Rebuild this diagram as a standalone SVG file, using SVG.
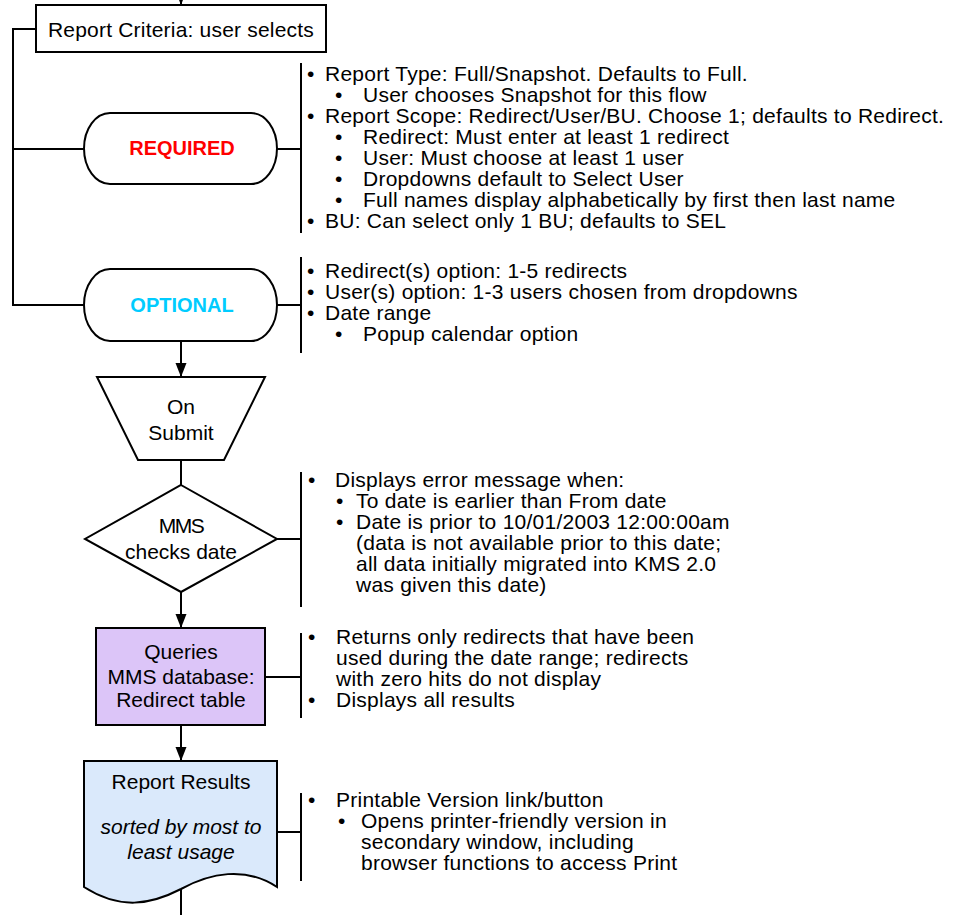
<svg xmlns="http://www.w3.org/2000/svg" width="960" height="915" viewBox="0 0 960 915">
<defs>
<marker id="arr" markerUnits="userSpaceOnUse" markerWidth="14" markerHeight="12" refX="14" refY="6" orient="auto">
<path d="M0,0.5 L14,6 L0,11.5 Z" fill="#000"/>
</marker>
</defs>
<style>
.s{fill:#fff;stroke:#000;stroke-width:2}
.c{fill:none;stroke:#000;stroke-width:2}
text{font-family:"Liberation Sans",Arial,sans-serif;font-size:21px;fill:#000}
.n text{letter-spacing:0.25px}
.m{text-anchor:middle}
.b{font-weight:bold;font-size:20px}
.i{font-style:italic}
</style>
<rect width="960" height="915" fill="#fff"/>

<g id="connectors">
<path class="c" d="M181,-10 V5" marker-end="url(#arr)"/>
<path class="c" d="M36,29 H13 V305 H84"/>
<path class="c" d="M13,149 H84"/>
<path class="c" d="M277,149 H301"/>
<path class="c" d="M301,63 V233"/>
<path class="c" d="M277,305 H301"/>
<path class="c" d="M301,257 V353"/>
<path class="c" d="M181,341 V377" marker-end="url(#arr)"/>
<path class="c" d="M181,460 V485"/>
<path class="c" d="M277,539 H301"/>
<path class="c" d="M301,472 V607"/>
<path class="c" d="M181,592 V628" marker-end="url(#arr)"/>
<path class="c" d="M265,677 H301"/>
<path class="c" d="M301,633 V718"/>
<path class="c" d="M181,725 V761" marker-end="url(#arr)"/>
<path class="c" d="M277,832 H301"/>
<path class="c" d="M301,793 V881"/>
<path class="c" d="M181,889 V915"/>
</g>

<g id="criteria">
<rect class="s" x="36" y="5" width="290" height="47"/>
<text class="m" x="181" y="36.5" letter-spacing="0.2">Report Criteria: user selects</text>
</g>

<g id="required">
<path class="s" d="M110,113 H251 A26,35.5 0 0 1 251,184 H110 A26,35.5 0 0 1 110,113 Z"/>
<text class="m b" x="182" y="155" style="fill:#FF0000">REQUIRED</text>
</g>

<g id="required-notes" class="n">
<text x="307" y="81">•</text><text x="325" y="81">Report Type: Full/Snapshot. Defaults to Full.</text>
<text x="335" y="102">•</text><text x="363" y="102">User chooses Snapshot for this flow</text>
<text x="307" y="123">•</text><text x="325" y="123">Report Scope: Redirect/User/BU. Choose 1; defaults to Redirect.</text>
<text x="335" y="144">•</text><text x="363" y="144">Redirect: Must enter at least 1 redirect</text>
<text x="335" y="165">•</text><text x="363" y="165">User: Must choose at least 1 user</text>
<text x="335" y="186">•</text><text x="363" y="186">Dropdowns default to Select User</text>
<text x="335" y="207">•</text><text x="363" y="207">Full names display alphabetically by first then last name</text>
<text x="307" y="228">•</text><text x="325" y="228">BU: Can select only 1 BU; defaults to SEL</text>
</g>

<g id="optional">
<path class="s" d="M110,269 H251 A26,36 0 0 1 251,341 H110 A26,36 0 0 1 110,269 Z"/>
<text class="m b" x="182" y="312" style="fill:#00CCFF">OPTIONAL</text>
</g>

<g id="optional-notes" class="n">
<text x="307" y="278">•</text><text x="325" y="278">Redirect(s) option: 1-5 redirects</text>
<text x="307" y="299">•</text><text x="325" y="299">User(s) option: 1-3 users chosen from dropdowns</text>
<text x="307" y="320">•</text><text x="325" y="320">Date range</text>
<text x="335" y="341">•</text><text x="363" y="341">Popup calendar option</text>
</g>

<g id="submit">
<path class="s" d="M97,377 H265 L224,460 H138 Z"/>
<text class="m" x="181" y="414">On</text>
<text class="m" x="181" y="440">Submit</text>
</g>

<g id="checks-date">
<path class="s" d="M181,485 L277,539 L181,592 L85,539 Z"/>
<text class="m" x="181" y="533" letter-spacing="-1.5">MMS</text>
<text class="m" x="181" y="559">checks date</text>
</g>

<g id="date-notes" class="n">
<text x="308" y="487">•</text><text x="335" y="487">Displays error message when:</text>
<text x="336" y="508">•</text><text x="356" y="508">To date is earlier than From date</text>
<text x="336" y="529">•</text><text x="356" y="529">Date is prior to 10/01/2003 12:00:00am</text>
<text x="356" y="550">(data is not available prior to this date;</text>
<text x="356" y="571">all data initially migrated into KMS 2.0</text>
<text x="356" y="592">was given this date)</text>
</g>

<g id="queries">
<rect x="96" y="628" width="169" height="97" fill="#DCC5F8" stroke="#000" stroke-width="2"/>
<text class="m" x="181" y="659">Queries</text>
<text class="m" x="181" y="684">MMS database:</text>
<text class="m" x="181" y="707">Redirect table</text>
</g>

<g id="queries-notes" class="n">
<text x="308" y="644">•</text><text x="336" y="644">Returns only redirects that have been</text>
<text x="336" y="665">used during the date range; redirects</text>
<text x="336" y="686">with zero hits do not display</text>
<text x="308" y="707">•</text><text x="336" y="707">Displays all results</text>
</g>

<g id="results">
<path d="M84,761 H277 V887 C245,866 210,873 181,889 C150,905 120,910 84,887 Z" fill="#DAE9FB" stroke="#000" stroke-width="2"/>
<text class="m" x="181" y="789">Report Results</text>
<text class="m i" x="181" y="834">sorted by most to</text>
<text class="m i" x="181" y="859">least usage</text>
</g>

<g id="results-notes" class="n">
<text x="308" y="807">•</text><text x="336" y="807">Printable Version link/button</text>
<text x="338" y="828">•</text><text x="361" y="828">Opens printer-friendly version in</text>
<text x="361" y="849">secondary window, including</text>
<text x="361" y="870">browser functions to access Print</text>
</g>
</svg>
